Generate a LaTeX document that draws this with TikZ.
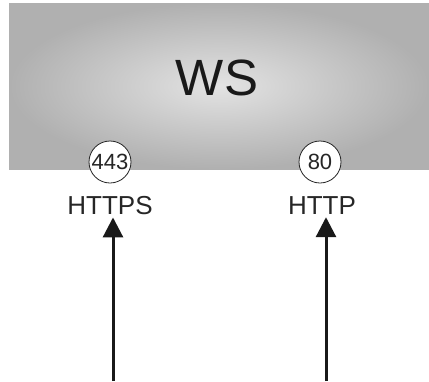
\documentclass[tikz,border=0pt]{standalone}
\usepackage{fontspec}
\setmainfont{Liberation Sans}
\usetikzlibrary{arrows.meta}

\tikzset{
	port/.style={circle, draw=black!85, line width=0.8pt, fill=white, minimum size=42pt, inner sep=0pt, font=\fontsize{22}{22}\selectfont, text=black!85},
	proto/.style={inner sep=0pt, anchor=base, font=\fontsize{26}{26}\selectfont, text=black!85},
	portarrow/.style={line width=3pt, black!90, shorten >=3pt, -{Triangle[length=20pt,width=20pt]}}
}

\begin{document}
\begin{tikzpicture}[x=1pt,y=-1pt]
			\useasboundingbox (0,0) rectangle (429,381);
			\shade[inner color=gray!22, outer color=gray!62] (9,3) rectangle (429,169);
			\node[text=black!90, font=\fontsize{51}{51}\selectfont] (ws) at (217,78) {WS};
			\node[port] (p443) at (110,162) {443};
			\node[port] (p80) at (320,162) {80};
			\node[proto] (https) at (110,214) {HTTPS};
			\node[proto] (http) at (322,214) {HTTP};
			\coordinate (src443) at (113,381);
			\coordinate (src80) at (326,381);
			\draw[portarrow] (src443) -- (src443 |- https.south);
			\draw[portarrow] (src80) -- (src80 |- http.south);
		\end{tikzpicture}
\end{document}
